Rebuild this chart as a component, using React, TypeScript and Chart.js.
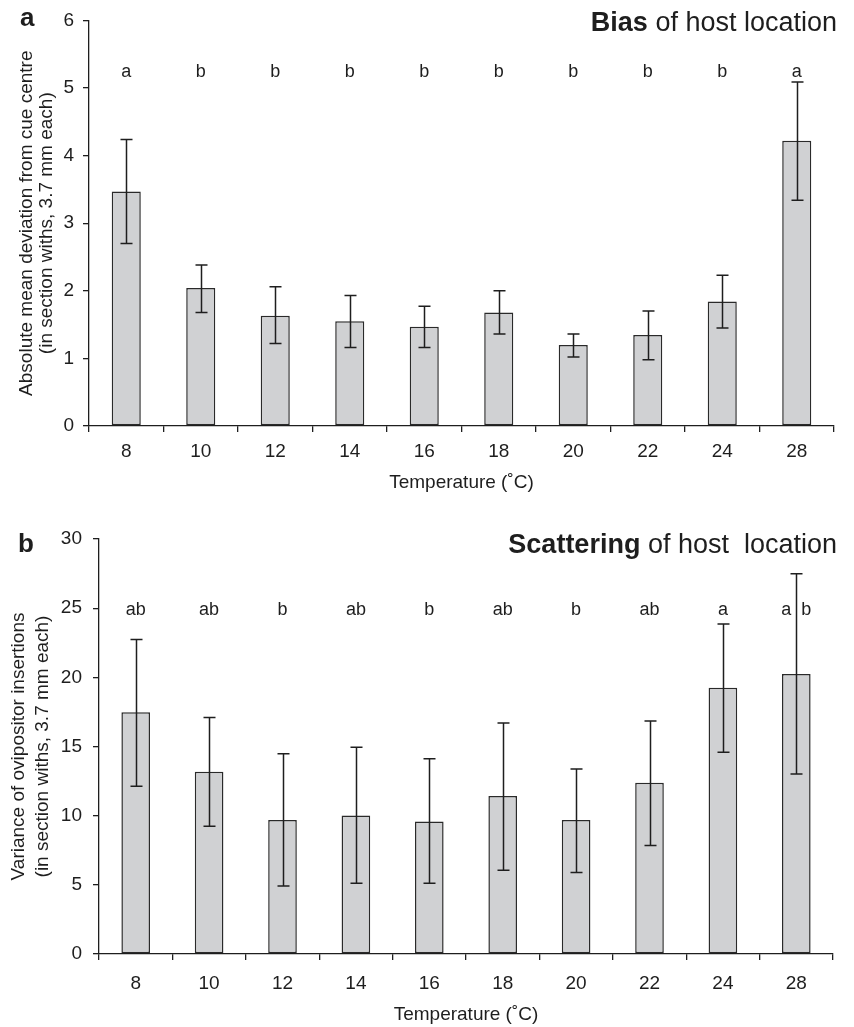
import React, { useEffect, useRef } from 'react';
import { Chart, registerables } from 'chart.js';

Chart.register(...registerables);

const FONT = '"Liberation Sans", Arial, Helvetica, sans-serif';
const INK = '#1e1e1e';
const BAR_FILL = '#d0d1d3';

// ---- data ----
const temperatures = ['8', '10', '12', '14', '16', '18', '20', '22', '24', '28'];

const biasMean = [3.47, 2.04, 1.63, 1.55, 1.47, 1.68, 1.2, 1.345, 1.84, 4.22];
const biasUpper = [4.24, 2.38, 2.06, 1.93, 1.77, 2.0, 1.36, 1.7, 2.23, 5.09];
const biasLower = [2.7, 1.68, 1.22, 1.16, 1.16, 1.36, 1.02, 0.98, 1.45, 3.34];
const biasLetters = ['a', 'b', 'b', 'b', 'b', 'b', 'b', 'b', 'b', 'a'];

const scatterMean = [17.47, 13.18, 9.68, 10.02, 9.58, 11.42, 9.68, 12.38, 19.24, 20.25];
const scatterUpper = [22.74, 17.09, 14.48, 14.94, 14.12, 16.7, 13.37, 16.85, 23.85, 27.49];
const scatterLower = [12.12, 9.24, 4.92, 5.12, 5.12, 6.06, 5.89, 7.84, 14.58, 13.01];
const scatterLetters = ['ab', 'ab', 'b', 'ab', 'b', 'ab', 'b', 'ab', 'a', 'a  b'];

const biasYTitle = ['Absolute mean deviation from cue centre', '(in section withs, 3.7 mm each)'];
const scatterYTitle = ['Variance of ovipositor insertions', '(in section withs, 3.7 mm each)'];
const xTitle = 'Temperature (\u02DAC)';

const AXIS_FONT = 19;

const annotPlugin = {
  id: 'annot',
  afterDatasetsDraw(chart: any, _args: any, opts: any) {
    const ctx = chart.ctx;
    const xs = chart.scales.x;
    const ys = chart.scales.y;
    ctx.save();
    ctx.strokeStyle = INK;
    ctx.lineWidth = 1.5;
    opts.upper.forEach((u: number, i: number) => {
      const px = Math.round(xs.getPixelForValue(i)) + 0.5;
      const y1 = ys.getPixelForValue(u);
      const y2 = ys.getPixelForValue(opts.lower[i]);
      ctx.beginPath();
      ctx.moveTo(px, y1);
      ctx.lineTo(px, y2);
      ctx.moveTo(px - 6, y1);
      ctx.lineTo(px + 6, y1);
      ctx.moveTo(px - 6, y2);
      ctx.lineTo(px + 6, y2);
      ctx.stroke();
    });
    ctx.fillStyle = INK;
    ctx.font = `18px ${FONT}`;
    ctx.textAlign = 'center';
    ctx.textBaseline = 'alphabetic';
    const ly = ys.getPixelForValue(opts.letterLevel);
    opts.letters.forEach((l: string, i: number) => {
      ctx.fillText(l, xs.getPixelForValue(i), ly);
    });
    // title
    ctx.textAlign = 'left';
    const boldFont = `bold 27px ${FONT}`;
    const normFont = `27px ${FONT}`;
    ctx.font = boldFont;
    const wb = ctx.measureText(opts.titleBold).width;
    ctx.font = normFont;
    const wr = ctx.measureText(opts.titleRest).width;
    const x0 = opts.titleRight - wb - wr;
    ctx.font = boldFont;
    ctx.fillText(opts.titleBold, x0, opts.titleBaseline);
    ctx.font = normFont;
    ctx.fillText(opts.titleRest, x0 + wb, opts.titleBaseline);
    // panel letter
    ctx.font = `bold 26px ${FONT}`;
    ctx.fillText(opts.panel, opts.panelX, opts.panelBaseline);
    ctx.restore();
  },
};

interface PanelProps {
  top: number;
  height: number;
  means: number[];
  upper: number[];
  lower: number[];
  letters: string[];
  letterLevel: number;
  yMax: number;
  yStep: number;
  yTitle: string[];
  yTitleLineHeight: number;
  yTitlePad: number;
  yAxisWidth: number;
  yTickPad: number;
  areaTop: number;
  areaRight: number;
  xAxisHeight: number;
  xTickPad: number;
  xTitlePad: number;
  panel: string;
  panelX: number;
  panelBaseline: number;
  titleBold: string;
  titleRest: string;
  titleBaseline: number;
}

function Panel(p: PanelProps) {
  const ref = useRef<HTMLCanvasElement>(null);
  useEffect(() => {
    if (!ref.current) return;
    const chart = new Chart(ref.current, {
      type: 'bar',
      data: {
        labels: temperatures,
        datasets: [
          {
            data: p.means,
            backgroundColor: BAR_FILL,
            borderColor: '#2a2a2a',
            borderWidth: 1.5,
            borderSkipped: false,
            barPercentage: 0.39,
            categoryPercentage: 1,
          },
        ],
      },
      options: {
        responsive: false,
        animation: false,
        devicePixelRatio: 1,
        layout: { padding: { top: p.areaTop, right: 854 - p.areaRight, left: 0, bottom: 0 } },
        plugins: {
          legend: { display: false },
          tooltip: { enabled: false },
          annot: {
            upper: p.upper,
            lower: p.lower,
            letters: p.letters,
            letterLevel: p.letterLevel,
            titleBold: p.titleBold,
            titleRest: p.titleRest,
            titleRight: 837,
            titleBaseline: p.titleBaseline,
            panel: p.panel,
            panelX: p.panelX,
            panelBaseline: p.panelBaseline,
          },
        } as any,
        scales: {
          x: {
            grid: { offset: true, drawOnChartArea: false, drawTicks: true, tickLength: 6, color: INK, lineWidth: 1.3 },
            border: { display: true, color: INK, width: 1.3 },
            ticks: { color: INK, font: { family: FONT, size: AXIS_FONT }, padding: p.xTickPad, maxRotation: 0 },
            title: {
              display: true,
              text: xTitle,
              color: INK,
              font: { family: FONT, size: AXIS_FONT },
              padding: { top: 0, bottom: p.xTitlePad },
            },
            afterFit: (s: any) => {
              s.height = p.xAxisHeight;
            },
          },
          y: {
            min: 0,
            max: p.yMax,
            grid: { drawOnChartArea: false, drawTicks: true, tickLength: 6, color: INK, lineWidth: 1.3 },
            border: { display: true, color: INK, width: 1.3 },
            ticks: { stepSize: p.yStep, color: INK, font: { family: FONT, size: AXIS_FONT }, padding: p.yTickPad },
            title: {
              display: true,
              text: p.yTitle,
              color: INK,
              font: { family: FONT, size: AXIS_FONT, lineHeight: p.yTitleLineHeight / AXIS_FONT },
              padding: { top: p.yTitlePad, bottom: 0 },
            },
            afterFit: (s: any) => {
              s.width = p.yAxisWidth;
            },
          },
        },
      },
      plugins: [annotPlugin],
    });
    return () => chart.destroy();
  }, []);
  return (
    <canvas
      ref={ref}
      width={854}
      height={p.height}
      style={{ position: 'absolute', left: 0, top: p.top, width: 854, height: p.height }}
    />
  );
}

export default function App() {
  return (
    <div style={{ position: 'absolute', left: 0, top: 0, width: 854, height: 1027, background: '#fff' }}>
      <Panel
        top={0}
        height={500}
        means={biasMean}
        upper={biasUpper}
        lower={biasLower}
        letters={biasLetters}
        letterLevel={5.16}
        yMax={6}
        yStep={1}
        yTitle={biasYTitle}
        yTitleLineHeight={20}
        yTitlePad={16.5}
        yAxisWidth={89}
        yTickPad={9}
        areaTop={17}
        areaRight={834}
        xAxisHeight={74}
        xTickPad={8}
        xTitlePad={6}
        panel="a"
        panelX={20}
        panelBaseline={26}
        titleBold="Bias"
        titleRest=" of host location"
        titleBaseline={31}
      />
      <Panel
        top={500}
        height={527}
        means={scatterMean}
        upper={scatterUpper}
        lower={scatterLower}
        letters={scatterLetters}
        letterLevel={24.5}
        yMax={30}
        yStep={5}
        yTitle={scatterYTitle}
        yTitleLineHeight={24}
        yTitlePad={6.5}
        yAxisWidth={99}
        yTickPad={11}
        areaTop={39}
        areaRight={833}
        xAxisHeight={73}
        xTickPad={12}
        xTitlePad={1}
        panel="b"
        panelX={18}
        panelBaseline={52}
        titleBold="Scattering"
        titleRest=" of host  location"
        titleBaseline={53}
      />
    </div>
  );
}
